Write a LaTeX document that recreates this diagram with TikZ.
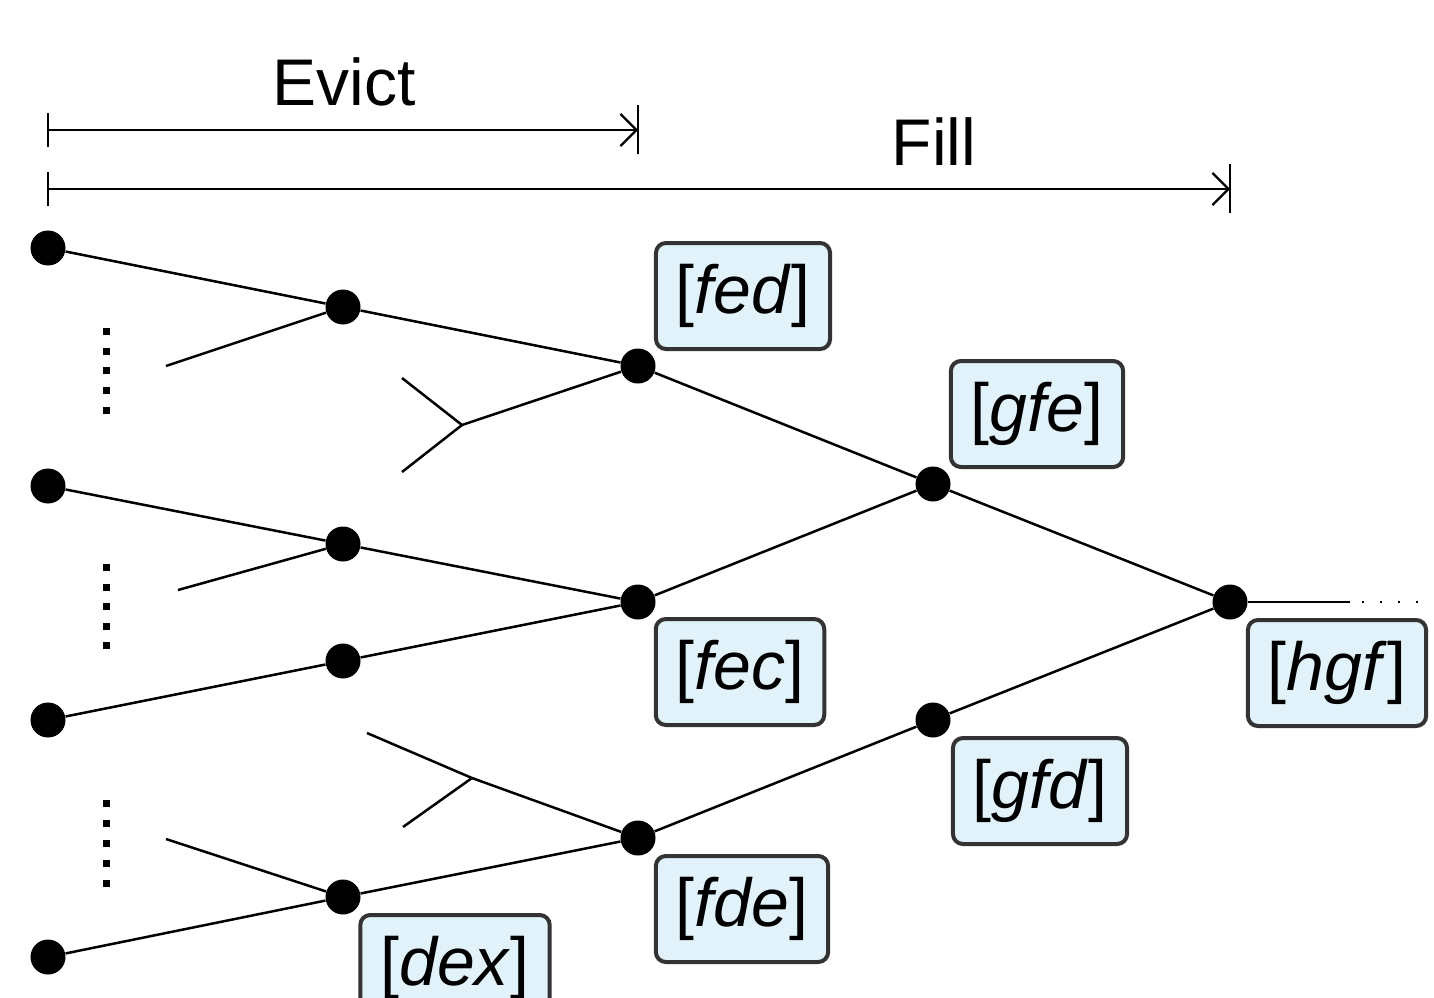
\documentclass[tikz,border=0pt]{standalone}
\usepackage{fontspec}
\setmainfont{Liberation Sans}
\usetikzlibrary{arrows.meta}
\definecolor{boxfill}{HTML}{E1F2FA}
\definecolor{boxdraw}{HTML}{333333}
\tikzset{
  dot/.style={circle,fill=black,inner sep=0pt,minimum size=17.5pt},
  edge/.style={line width=1.25pt},
  lbl/.style={draw=boxdraw,fill=boxfill,line width=2pt,rounded corners=5pt,
    inner xsep=10pt,inner ysep=0pt,minimum height=53pt,font=\fontsize{34}{40}\selectfont},
  dimline/.style={line width=1.1pt},
  ttl/.style={font=\fontsize{33}{40}\selectfont,anchor=base},
  vdot/.style={fill=black}
}
\begin{document}
\begin{tikzpicture}[x=0.5pt,y=-0.5pt]
\useasboundingbox (0,0) rectangle (1434,997);
% titles and dimension lines
\node[ttl] (evict) at (344,105) {Evict};
\node[ttl] (fill) at (934,165) {Fill};
\coordinate (e0) at (48,130);
\coordinate (e1) at (638,130);
\coordinate (f0) at (48,189);
\coordinate (f1) at (1230,189);
\draw[dimline,-{Straight Barb[length=8pt,width=16pt,line width=1.1pt]}] (e0) -- (e1);
\draw[dimline] ([yshift=8.5pt]e0) -- ([yshift=-8.5pt]e0);
\draw[dimline] ([yshift=12.5pt]e1) -- ([yshift=-12pt]e1);
\draw[dimline,-{Straight Barb[length=8pt,width=16pt,line width=1.1pt]}] (f0) -- (f1);
\draw[dimline] ([yshift=8.5pt]f0) -- ([yshift=-8.5pt]f0);
\draw[dimline] ([yshift=12.5pt]f1) -- ([yshift=-12pt]f1);
% dots
\node[dot] (a1) at (48,248) {};
\node[dot] (a2) at (48,486) {};
\node[dot] (a3) at (48,720) {};
\node[dot] (a4) at (48,957) {};
\node[dot] (b1) at (343,307) {};
\node[dot] (b2) at (343,544) {};
\node[dot] (b3) at (343,661) {};
\node[dot] (b4) at (343,897) {};
\node[dot] (c1) at (638,366) {};
\node[dot] (c2) at (638,602) {};
\node[dot] (c3) at (638,838) {};
\node[dot] (d1) at (933,484) {};
\node[dot] (d2) at (933,720) {};
\node[dot] (e) at (1230,602) {};
% free ends
\coordinate (p1) at (166,366);
\coordinate (j1) at (462,425);
\coordinate (q1) at (402,378);
\coordinate (q2) at (402,472);
\coordinate (p2) at (178,590);
\coordinate (p3) at (367,733);
\coordinate (j2) at (472,778);
\coordinate (q3) at (403,827);
\coordinate (p4) at (166,839);
\coordinate (r1) at (1350,602);
\coordinate (r2) at (1428,602);
% edges
\draw[edge] (a1) -- (b1) -- (c1) -- (d1) -- (e);
\draw[edge] (b1) -- (p1);
\draw[edge] (c1) -- (j1) -- (q1);
\draw[edge] (j1) -- (q2);
\draw[edge] (a2) -- (b2) -- (c2) -- (d1);
\draw[edge] (b2) -- (p2);
\draw[edge] (a3) -- (b3) -- (c2);
\draw[edge] (c3) -- (d2) -- (e);
\draw[edge] (p3) -- (j2) -- (c3);
\draw[edge] (j2) -- (q3);
\draw[edge] (c3) -- (b4) -- (a4);
\draw[edge] (b4) -- (p4);
\draw[edge] (e) -- (r1);
\draw[line width=1pt,dash pattern=on 1pt off 8pt] ([xshift=6pt]r1) -- (r2);
% vertical dots
\foreach \y in {331,351,370,390,410,567,587,606,626,645,803,823,843,863,883}
  \fill[vdot] (102.5,\y-3.5) rectangle (109.5,\y+3.5);
% labels
\node[lbl] (lfed) at (743,296) {[\textit{fed}]};
\node[lbl] (lgfe) at (1037,414) {[\textit{gfe}]};
\node[lbl] (lfec) at (740,672) {[\textit{fec}]};
\node[lbl] (lhgf) at (1337,673) {[\textit{hgf}]};
\node[lbl] (lgfd) at (1040,791) {[\textit{gfd}]};
\node[lbl] (lfde) at (742,909) {[\textit{fde}]};
\node[lbl] (ldex) at (455,968) {[\textit{dex}]};
\end{tikzpicture}
\end{document}
